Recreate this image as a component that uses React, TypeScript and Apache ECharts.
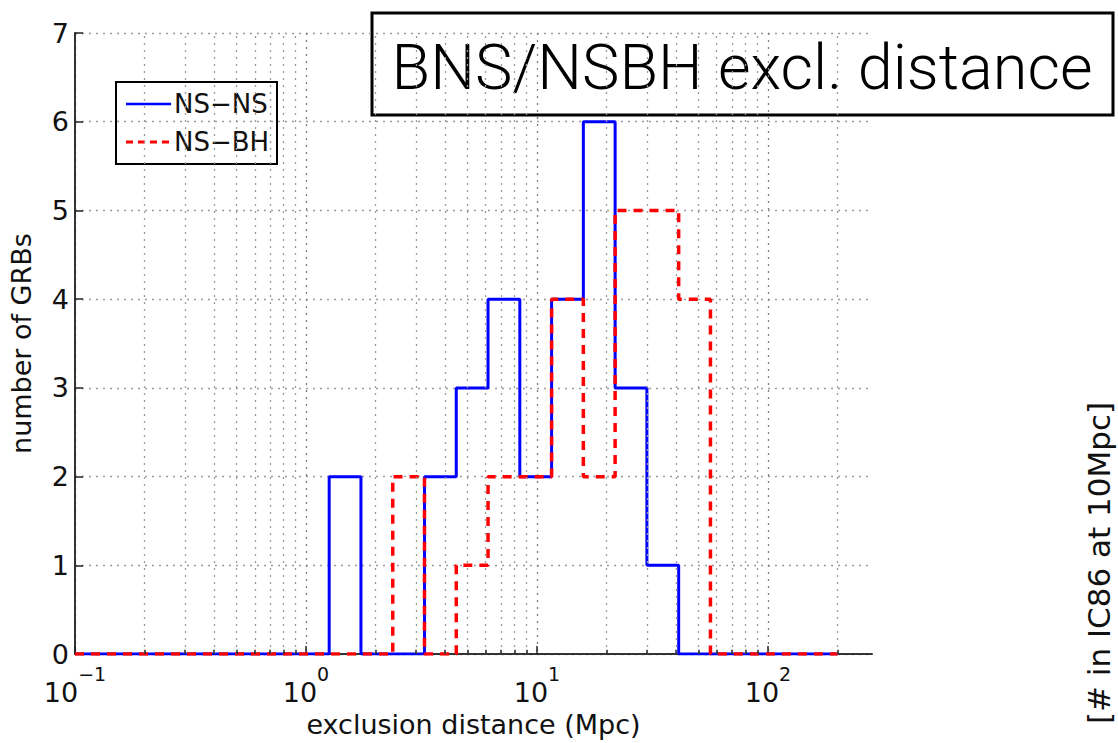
import React, { useEffect, useRef } from "react";
import * as echarts from "echarts";

// Histogram of exclusion distances (Mpc), 24 log-spaced bins from 0.1 to 200 Mpc
const BIN_LOW = 0.1;
const BIN_HIGH = 200;
const BIN_COUNT = 24;

// Number of GRBs per bin
const nsNsCounts = [0, 0, 0, 0, 0, 0, 0, 0, 2, 0, 0, 2, 3, 4, 2, 4, 6, 3, 1, 0, 0, 0, 0, 0];
const nsBhCounts = [0, 0, 0, 0, 0, 0, 0, 0, 0, 0, 2, 0, 1, 2, 2, 4, 2, 5, 5, 4, 0, 0, 0, 0];

const seriesNames = ["NS\u2212NS", "NS\u2212BH"];
const seriesColors = ["#0000ff", "#ff0000"];
const xMinorValues = [
  0.2, 0.3, 0.4, 0.5, 0.6, 0.7, 0.8, 0.9,
  2, 3, 4, 5, 6, 7, 8, 9,
  20, 30, 40, 50, 60, 70, 80, 90,
  200,
];
const X_MIN = 0.1;
const X_MAX = 282;

const titleText = "BNS/NSBH excl. distance";
const sideText = "[# in IC86 at 10Mpc]";
const xName = "exclusion distance (Mpc)";
const yName = "number of GRBs";

const AXIS_FONT = "'DejaVu Sans', sans-serif";

function binEdges(): number[] {
  const lo = Math.log10(BIN_LOW);
  const hi = Math.log10(BIN_HIGH);
  const edges: number[] = [];
  for (let k = 0; k <= BIN_COUNT; k++) edges.push(Math.pow(10, lo + ((hi - lo) * k) / BIN_COUNT));
  return edges;
}

function stairs(counts: number[]): number[][] {
  const edges = binEdges();
  const pts = counts.map((c, i) => [edges[i], c]);
  pts.push([edges[counts.length], counts[counts.length - 1]]);
  return pts;
}

export default function App() {
  const ref = useRef<HTMLDivElement>(null);

  useEffect(() => {
    if (!ref.current) return;
    const chart = echarts.init(ref.current, undefined, { renderer: "svg" });

    const gridDot = { type: [2, 5] as number[], width: 1.3, color: "#9a9a9a" };

    // legend box drawn as a small group in the upper-left of the plot
    const legendBox = { x: 116, y: 82, w: 161, h: 82 };
    const legendRows = [104, 142];

    const option: any = {
      animation: false,
      backgroundColor: "#ffffff",
      grid: { left: 74, top: 33, width: 798, height: 632, containLabel: false },
      xAxis: {
        type: "log",
        logBase: 10,
        min: X_MIN,
        max: X_MAX,
        name: xName,
        nameLocation: "middle",
        nameGap: 51,
        nameTextStyle: { fontFamily: AXIS_FONT, fontSize: 27, color: "#111" },
        axisLine: { show: true, onZero: false, lineStyle: { color: "#333", width: 2 } },
        axisTick: { show: true, inside: true, length: 8, lineStyle: { color: "#222", width: 1.5 } },
        axisLabel: {
          margin: 10,
          color: "#111",
          showMaxLabel: false,
          formatter: (v: number) => {
            if (v > 150) return "";
            const p = Math.round(Math.log10(v));
            return `{b|10}{e|${p < 0 ? "\u2212" : ""}${Math.abs(p)}}`;
          },
          rich: {
            b: { fontFamily: AXIS_FONT, fontSize: 27, lineHeight: 42, verticalAlign: "bottom", color: "#111" },
            e: { fontFamily: AXIS_FONT, fontSize: 19, lineHeight: 20, verticalAlign: "top", color: "#111" },
          },
        },
        splitLine: { show: true, showMaxLine: false, lineStyle: { ...gridDot, color: "#808080" } },
      },
      yAxis: {
        type: "value",
        min: 0,
        max: 7,
        interval: 1,
        name: yName,
        nameLocation: "middle",
        nameGap: 40,
        nameTextStyle: { fontFamily: AXIS_FONT, fontSize: 27, color: "#111" },
        axisLine: { show: true, lineStyle: { color: "#333", width: 2 } },
        axisTick: { show: true, inside: true, length: 8, lineStyle: { color: "#222", width: 1.5 } },
        axisLabel: { margin: 6, fontFamily: AXIS_FONT, fontSize: 27, color: "#111" },
        splitLine: { show: true, lineStyle: gridDot },
      },
      series: [
        {
          // dotted grid at the minor decades plus small ticks on the x axis
          type: "line",
          name: "grid",
          data: [],
          silent: true,
          z: 1,
          markLine: {
            silent: true,
            symbol: "none",
            label: { show: false },
            lineStyle: gridDot,
            data: [
              ...xMinorValues.map((v) => ({ xAxis: v })),
              ...xMinorValues.map((v) => [
                { coord: [v, 0], lineStyle: { type: "solid", color: "#222", width: 1.5 } },
                { coord: [v, 0.05] },
              ]),
            ],
          },
        },
        {
          type: "line",
          name: seriesNames[0],
          data: stairs(nsNsCounts),
          step: "end",
          symbol: "none",
          z: 3,
          lineStyle: { color: seriesColors[0], width: 3 },
          itemStyle: { color: seriesColors[0] },
        },
        {
          type: "line",
          name: seriesNames[1],
          data: stairs(nsBhCounts),
          step: "end",
          symbol: "none",
          z: 4,
          lineStyle: { color: seriesColors[1], width: 3.5, type: [9, 7] },
          itemStyle: { color: seriesColors[1] },
        },
      ],
      graphic: [
        {
          type: "group",
          z: 100,
          children: [
            {
              type: "rect",
              shape: { x: legendBox.x, y: legendBox.y, width: legendBox.w, height: legendBox.h },
              style: { fill: "#ffffff", stroke: "#000", lineWidth: 2 },
            },
            {
              type: "line",
              shape: { x1: 126, y1: legendRows[0], x2: 171, y2: legendRows[0] },
              style: { stroke: seriesColors[0], lineWidth: 2.5 },
            },
            {
              type: "line",
              shape: { x1: 126, y1: legendRows[1], x2: 171, y2: legendRows[1] },
              style: { stroke: seriesColors[1], lineWidth: 3, lineDash: [7, 5] },
            },
            ...seriesNames.map((name, i) => ({
              type: "text",
              x: 174,
              y: legendRows[i],
              style: {
                text: name,
                fontFamily: AXIS_FONT,
                fontSize: 26,
                fill: "#111",
                textAlign: "left",
                textVerticalAlign: "middle",
              },
            })),
          ],
        },
        {
          type: "group",
          z: 100,
          children: [
            {
              type: "rect",
              shape: { x: 372, y: 13, width: 741, height: 102 },
              style: { fill: "#ffffff", stroke: "#000", lineWidth: 3 },
            },
            {
              type: "text",
              x: 742,
              y: 67,
              style: {
                text: titleText,
                fontFamily: "Roboto, 'Liberation Sans', sans-serif",
                fontWeight: 300,
                fontSize: 63,
                fill: "#000",
                textAlign: "center",
                textVerticalAlign: "middle",
              },
            },
          ],
        },
        {
          type: "text",
          x: 1099,
          y: 563,
          rotation: Math.PI / 2,
          z: 100,
          style: {
            text: sideText,
            fontFamily: AXIS_FONT,
            fontSize: 31,
            fill: "#111",
            textAlign: "center",
            textVerticalAlign: "middle",
          },
        },
      ],
    };

    chart.setOption(option);
    return () => chart.dispose();
  }, []);

  return (
    <div
      ref={ref}
      style={{ position: "absolute", left: 0, top: 0, width: 1118, height: 743, background: "#fff" }}
    />
  );
}
